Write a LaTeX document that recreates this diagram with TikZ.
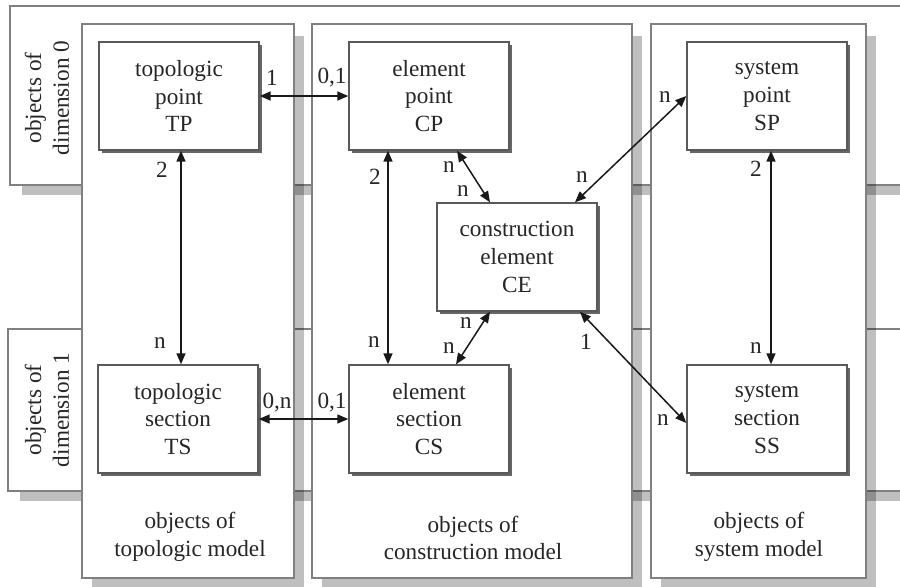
\documentclass[tikz,border=0pt]{standalone}
\usepackage{fontspec}
\setmainfont{Liberation Serif}
\usetikzlibrary{arrows.meta,shadows}
\begin{document}
\begin{tikzpicture}[x=0.5pt,y=-0.5pt,
  every node/.style={font=\fontsize{11.6pt}{13.9pt}\selectfont, text=black!85},
  obj/.style={draw=black!65, line width=0.7pt, fill=white, minimum width=80pt, minimum height=54pt, inner sep=0pt, align=center,
    drop shadow={shadow xshift=1.5pt, shadow yshift=-1.5pt, fill=black!60, opacity=1}},
  lbl/.style={inner sep=0pt},
  rel/.style={<->, >={Triangle[length=5.5pt,width=4.5pt]}, line width=0.75pt, draw=black!90},
  frame/.style={draw=black!50, line width=0.7pt, fill=white},
  shade/.style={fill=black, opacity=0.25}]
\useasboundingbox (0,0) rectangle (900,586);
% bands
\fill[shade] (22,16) rectangle (920,195);
\draw[frame] (10,6) rectangle (920,185);
\fill[shade] (20,339) rectangle (920,501);
\draw[frame] (8,329) rectangle (920,491);
\node[rotate=90, align=center] (d0) at (47,98) {objects of\\dimension 0};
\node[rotate=90, align=center] (d1) at (47,410) {objects of\\dimension 1};
% columns
\fill[shade] (92,36) rectangle (304,588);
\fill[shade] (322,36) rectangle (642,588);
\fill[shade] (661,36) rectangle (876,588);
\draw[frame] (82,24) rectangle (294,578);
\draw[frame] (312,24) rectangle (632,578);
\draw[frame] (651,24) rectangle (866,578);
\node[align=center] (tm) at (190,537) {objects of\\topologic model};
\node[align=center] (cm) at (473,538) {objects of\\construction model};
\node[align=center] (sm) at (759,537) {objects of\\system model};
% boxes
\node[obj] (TP) at (179,96) {topologic\\point\\TP};
\node[obj] (CP) at (429,96) {element\\point\\CP};
\node[obj] (SP) at (767,96) {system\\point\\SP};
\node[obj] (TS) at (178,419) {topologic\\section\\TS};
\node[obj] (CS) at (429,419) {element\\section\\CS};
\node[obj] (SS) at (767,419) {system\\section\\SS};
\node[obj] (CE) at (517,257) {construction\\element\\CE};
% relations
\draw[rel] (TP.east) -- (CP.west);
\draw[rel] (TS.east) -- (CS.west);
\draw[rel] ([xshift=1pt]TP.south) -- ([xshift=1.5pt]TS.north);
\draw[rel] ([xshift=-20.5pt]CP.south) -- ([xshift=-20.5pt]CS.north);
\draw[rel] ([xshift=2pt]SP.south) -- ([xshift=2pt]SS.north);
\draw[rel] ([xshift=14pt]CP.south) -- ([xshift=-13.5pt]CE.north);
\draw[rel] ([xshift=13.5pt]CS.north) -- ([xshift=-13.5pt]CE.south);
\draw[rel] ([xshift=29pt]CE.north) -- (SP.west);
\draw[rel] ([xshift=31.5pt]CE.south) -- ([yshift=-2pt]SS.west);
% multiplicities
\node[lbl] (l1) at (272,78) {1};
\node[lbl] (l2) at (332,78) {0,1};
\node[lbl] (l3) at (277,403) {0,n};
\node[lbl] (l4) at (332,403) {0,1};
\node[lbl] (l5) at (162,170) {2};
\node[lbl] (l6) at (160,343) {n};
\node[lbl] (l7) at (375,177) {2};
\node[lbl] (l8) at (374,342) {n};
\node[lbl] (l9) at (449,167) {n};
\node[lbl] (l10) at (463,191) {n};
\node[lbl] (l11) at (466,323) {n};
\node[lbl] (l12) at (449,348) {n};
\node[lbl] (l13) at (582,177) {n};
\node[lbl] (l14) at (665,97) {n};
\node[lbl] (l15) at (586,342) {1};
\node[lbl] (l16) at (663,420) {n};
\node[lbl] (l17) at (756,169) {2};
\node[lbl] (l18) at (756,348) {n};
\end{tikzpicture}
\end{document}
